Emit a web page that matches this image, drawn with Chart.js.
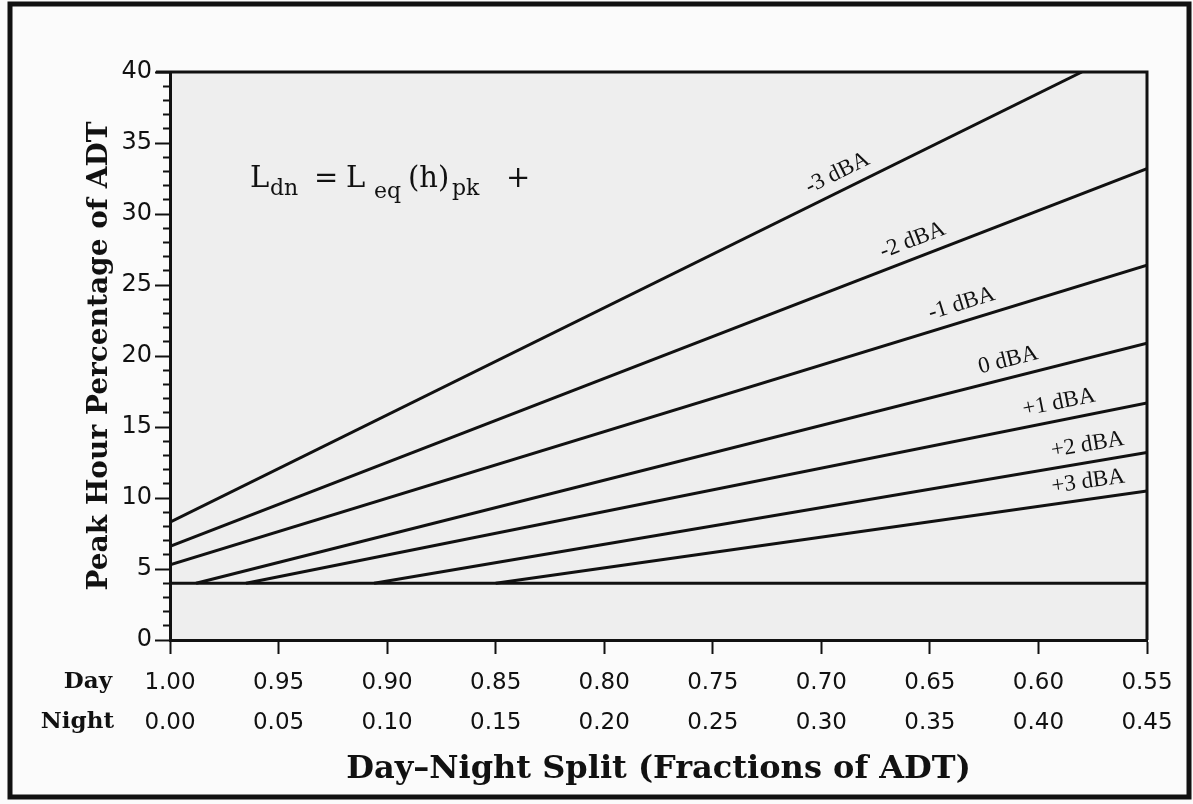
<!DOCTYPE html>
<html>
<head>
<meta charset="utf-8">
<title>Peak Hour Percentage of ADT</title>
<script src="https://cdn.jsdelivr.net/npm/chart.js@4.4.1/dist/chart.umd.min.js"></script>
<style>
  html, body { margin: 0; padding: 0; background: #fbfbfb; }
  #wrap { width: 1193px; height: 804px; position: relative; }
</style>
</head>
<body>
<div id="wrap"><canvas id="chart"></canvas></div>
<script>
// x axis = night fraction of ADT (day fraction = 1 - night)
const dayLabels = ["1.00", "0.95", "0.90", "0.85", "0.80", "0.75", "0.70", "0.65", "0.60", "0.55"];
const nightLabels = ["0.00", "0.05", "0.10", "0.15", "0.20", "0.25", "0.30", "0.35", "0.40", "0.45"];

const seriesNames = ["-3 dBA", "-2 dBA", "-1 dBA", "0 dBA", "+1 dBA", "+2 dBA", "+3 dBA"];

// peak hour % of ADT (night fraction, percent)
const minus3X = [0, 0.42];      const minus3Y = [8.3, 40];
const minus2X = [0, 0.45];      const minus2Y = [6.6, 33.2];
const minus1X = [0, 0.45];      const minus1Y = [5.3, 26.4];
const zeroX   = [0.012, 0.45];  const zeroY   = [4.0, 20.9];
const plus1X  = [0.035, 0.45];  const plus1Y  = [4.0, 16.7];
const plus2X  = [0.094, 0.45];  const plus2Y  = [4.0, 13.2];
const plus3X  = [0.15, 0.45];   const plus3Y  = [4.0, 10.5];
const floorX  = [0, 0.45];      const floorY  = [4.0, 4.0];

// where each curve label sits (night fraction)
const labelNight = [0.311, 0.345, 0.367, 0.388, 0.411, 0.424, 0.424];

function pts(xs, ys) {
  return xs.map((x, i) => ({ x: x, y: ys[i] }));
}

const allSeries = [
  pts(minus3X, minus3Y), pts(minus2X, minus2Y), pts(minus1X, minus1Y), pts(zeroX, zeroY),
  pts(plus1X, plus1Y), pts(plus2X, plus2Y), pts(plus3X, plus3Y), pts(floorX, floorY)
];

const datasets = allSeries.map((d, i) => ({
  label: seriesNames[i] || "floor",
  data: d,
  showLine: true,
  borderColor: "#111",
  borderWidth: 3,
  pointRadius: 0,
  fill: false
}));

// background, plot box and outer frame
const frame = {
  id: "frame",
  beforeDraw(chart) {
    const { ctx, chartArea: a, width, height } = chart;
    ctx.save();
    ctx.fillStyle = "#fbfbfb";
    ctx.fillRect(0, 0, width, height);
    ctx.fillStyle = "#eeeeee";
    ctx.fillRect(a.left, a.top, a.right - a.left, a.bottom - a.top);
    ctx.restore();
  },
  afterDraw(chart) {
    const { ctx, chartArea: a } = chart;
    ctx.save();
    ctx.strokeStyle = "#111";
    ctx.lineWidth = 3;
    ctx.beginPath();
    ctx.moveTo(a.left - 14, a.top);
    ctx.lineTo(a.right, a.top);
    ctx.lineTo(a.right, a.bottom);
    ctx.stroke();
    ctx.lineWidth = 5;
    ctx.strokeRect(10, 4, 1179, 793);
    // Day / Night row names
    ctx.fillStyle = "#111";
    ctx.font = "bold 23px 'DejaVu Serif'";
    ctx.textAlign = "right";
    ctx.textBaseline = "middle";
    ctx.fillText("Day", 112, a.bottom + 42);
    ctx.fillText("Night", 114, a.bottom + 82);
    ctx.restore();
  }
};

// curve labels along the lines
const lineLabels = {
  id: "lineLabels",
  afterDatasetsDraw(chart) {
    const { ctx, scales: { x, y } } = chart;
    ctx.save();
    ctx.font = "23px 'Liberation Serif'";
    ctx.fillStyle = "#111";
    ctx.textAlign = "center";
    ctx.textBaseline = "bottom";
    seriesNames.forEach((name, i) => {
      const d = chart.data.datasets[i].data;
      const a = d[0], b = d[d.length - 1];
      const n = labelNight[i];
      const v = a.y + (b.y - a.y) * (n - a.x) / (b.x - a.x);
      const ang = Math.atan2(y.getPixelForValue(b.y) - y.getPixelForValue(a.y),
                             x.getPixelForValue(b.x) - x.getPixelForValue(a.x));
      ctx.save();
      ctx.translate(x.getPixelForValue(n), y.getPixelForValue(v));
      ctx.rotate(ang);
      ctx.fillText(name, 0, -6);
      ctx.restore();
    });
    // formula
    ctx.textAlign = "left";
    ctx.textBaseline = "alphabetic";
    const big = "29px 'DejaVu Serif'", small = "22px 'DejaVu Serif'";
    const parts = [
      ["L", big, 250, 187], ["dn", small, 270, 195], ["=", big, 314, 187], ["L", big, 346, 187],
      ["eq", small, 374, 198], ["(h)", big, 408, 187], ["pk", small, 452, 195], ["+", big, 506, 187]
    ];
    parts.forEach(p => {
      ctx.font = p[1];
      ctx.fillText(p[0], p[2], p[3]);
    });
    ctx.restore();
  }
};

new Chart(document.getElementById("chart"), {
  type: "scatter",
  data: { datasets: datasets },
  options: {
    responsive: true,
    maintainAspectRatio: false,
    animation: false,
    layout: { padding: { left: 0, right: 46, top: 72, bottom: 0 } },
    plugins: { legend: { display: false }, tooltip: { enabled: false } },
    scales: {
      x: {
        type: "linear",
        min: 0,
        max: 0.45,
        afterFit: s => { s.height = 164; },
        border: { color: "#111", width: 3 },
        grid: { drawOnChartArea: false, tickLength: 14, tickWidth: 2, tickColor: "#111" },
        ticks: {
          stepSize: 0.05,
          autoSkip: false,
          maxRotation: 0,
          padding: 9,
          color: "#111",
          font: { family: "'DejaVu Sans'", size: 23, lineHeight: 1.74 },
          callback: (v, i) => [dayLabels[i], nightLabels[i]]
        },
        title: {
          display: true,
          text: "Day–Night Split (Fractions of ADT)",
          color: "#111",
          font: { family: "'DejaVu Serif'", size: 32, weight: "bold" },
          padding: { top: 0, bottom: 15 }
        }
      },
      y: {
        min: 0,
        max: 40,
        afterFit: s => { s.width = 170; },
        border: { color: "#111", width: 3 },
        grid: {
          drawOnChartArea: false,
          tickLength: 15,
          tickWidth: 2,
          tickColor: "#111",
          tickBorderDash: c => (c.tick && c.tick.value % 5 === 0) ? [] : [7, 8],
          tickBorderDashOffset: c => (c.tick && c.tick.value % 5 === 0) ? 0 : 7
        },
        ticks: {
          stepSize: 1,
          autoSkip: false,
          padding: 3,
          color: "#111",
          font: { family: "'DejaVu Sans'", size: 24 },
          callback: v => (v % 5 === 0 ? String(v) : "")
        },
        title: {
          display: true,
          text: "Peak Hour Percentage of ADT",
          color: "#111",
          font: { family: "'DejaVu Serif'", size: 28, weight: "bold" },
          padding: { top: 83, bottom: 0 }
        }
      }
    }
  },
  plugins: [frame, lineLabels]
});
</script>
</body>
</html>
